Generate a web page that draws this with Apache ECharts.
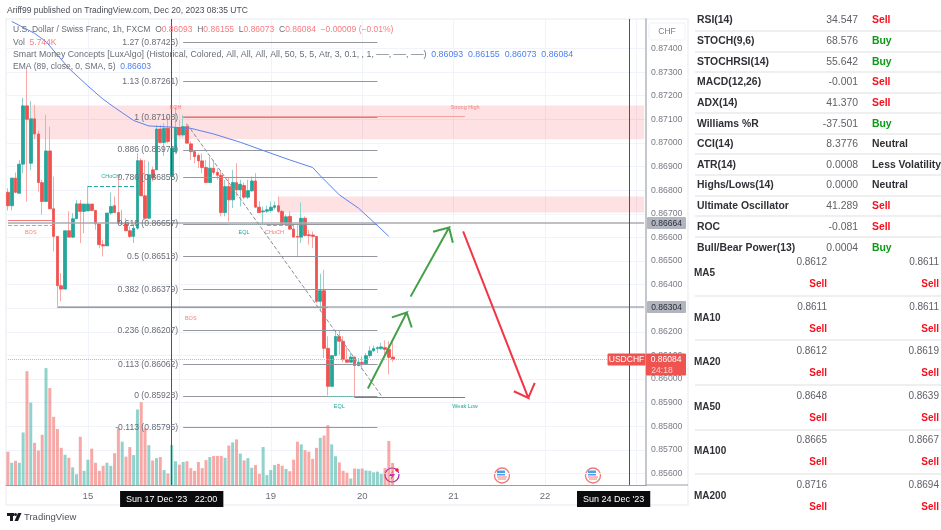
<!DOCTYPE html>
<html>
<head>
<meta charset="utf-8">
<title>USDCHF</title>
<style>
html, body { margin: 0; padding: 0; background: #fff; }
#main { width: 941px; height: 530px; }
</style>
<script src="https://cdn.jsdelivr.net/npm/echarts@6/dist/echarts.min.js"></script>
</head>
<body>
<div id="main"></div>
<script>
// candles
var opens = [0.86791,0.86734,0.86851,0.86787,0.86910,0.87157,0.86914,0.87102,0.87038,0.86832,0.86752,0.86966,0.86721,0.86604,0.86395,0.86381,0.86628,0.86601,0.86679,0.86742,0.86710,0.86712,0.86741,0.86714,0.86657,0.86569,0.86564,0.86703,0.86734,0.86705,0.86657,0.86660,0.86628,0.86604,0.86639,0.86925,0.86776,0.86681,0.86886,0.86886,0.87059,0.87002,0.87062,0.86858,0.86963,0.87065,0.87034,0.87069,0.86996,0.86963,0.86947,0.86924,0.86896,0.86832,0.86893,0.86875,0.86863,0.86705,0.86815,0.86759,0.86832,0.86801,0.86820,0.86770,0.86797,0.86839,0.86728,0.86708,0.86711,0.86714,0.86727,0.86734,0.86710,0.86660,0.86689,0.86635,0.86604,0.86601,0.86681,0.86611,0.86610,0.86604,0.86329,0.86374,0.86130,0.85969,0.86099,0.86180,0.86160,0.86082,0.86071,0.86093,0.86057,0.86071,0.86065,0.86099,0.86119,0.86129,0.86129,0.86133,0.86125,0.86093];
var closes = [0.86734,0.86851,0.86791,0.86910,0.87157,0.87100,0.87102,0.87038,0.86832,0.86752,0.86966,0.86721,0.86604,0.86395,0.86381,0.86628,0.86601,0.86679,0.86742,0.86710,0.86741,0.86741,0.86714,0.86657,0.86569,0.86564,0.86703,0.86731,0.86705,0.86660,0.86660,0.86628,0.86604,0.86639,0.86925,0.86776,0.86681,0.86865,0.86851,0.87059,0.87002,0.87062,0.87006,0.86978,0.87065,0.87034,0.87069,0.86999,0.86963,0.86942,0.86924,0.86896,0.86832,0.86893,0.86875,0.86863,0.86705,0.86815,0.86759,0.86832,0.86801,0.86825,0.86770,0.86798,0.86839,0.86728,0.86705,0.86712,0.86717,0.86728,0.86734,0.86710,0.86660,0.86687,0.86635,0.86601,0.86601,0.86681,0.86608,0.86607,0.86604,0.86329,0.86374,0.86130,0.85969,0.86099,0.86180,0.86160,0.86082,0.86071,0.86093,0.86057,0.86071,0.86065,0.86099,0.86119,0.86129,0.86133,0.86136,0.86125,0.86092,0.86084];
var lows = [0.86714,0.86714,0.86787,0.86787,0.86872,0.86752,0.86886,0.87016,0.86794,0.86696,0.86752,0.86721,0.86540,0.86308,0.86329,0.86381,0.86601,0.86597,0.86677,0.86576,0.86618,0.86712,0.86710,0.86632,0.86555,0.86519,0.86564,0.86696,0.86705,0.86653,0.86657,0.86628,0.86597,0.86576,0.86632,0.86776,0.86674,0.86677,0.86837,0.86886,0.86999,0.86945,0.86999,0.86858,0.86956,0.87027,0.87027,0.86999,0.86928,0.86914,0.86893,0.86872,0.86832,0.86830,0.86865,0.86844,0.86689,0.86689,0.86667,0.86724,0.86773,0.86731,0.86762,0.86762,0.86794,0.86724,0.86703,0.86653,0.86703,0.86705,0.86717,0.86703,0.86657,0.86657,0.86632,0.86601,0.86515,0.86576,0.86604,0.86569,0.86555,0.86322,0.86287,0.86089,0.85930,0.85969,0.86096,0.86103,0.86071,0.86071,0.86068,0.85920,0.86054,0.86040,0.86062,0.86089,0.86116,0.86110,0.86124,0.86103,0.86019,0.86073];
var highs = [0.86808,0.86851,0.86875,0.86928,0.87192,0.87316,0.87178,0.87161,0.87052,0.86844,0.87119,0.87069,0.86858,0.86604,0.86449,0.86628,0.86710,0.86703,0.86759,0.86759,0.86741,0.86818,0.86741,0.86714,0.86657,0.86590,0.86703,0.86790,0.86773,0.86846,0.86717,0.86681,0.86646,0.86657,0.86956,0.86935,0.86928,0.86921,0.86900,0.87076,0.87076,0.87083,0.87112,0.87041,0.87154,0.87097,0.87119,0.87083,0.87006,0.86970,0.86956,0.86956,0.86928,0.86942,0.86928,0.86893,0.86886,0.86844,0.86851,0.86886,0.86914,0.86844,0.86832,0.86844,0.86858,0.86872,0.86752,0.86731,0.86734,0.86752,0.86752,0.86773,0.86717,0.86696,0.86710,0.86657,0.86657,0.86748,0.86689,0.86632,0.86625,0.86604,0.86446,0.86463,0.86181,0.86099,0.86202,0.86205,0.86181,0.86139,0.86113,0.86093,0.86089,0.86096,0.86110,0.86139,0.86142,0.86139,0.86153,0.86164,0.86160,0.86155];
// volume in thousands
var volumes = [8.7,5.8,6.3,5.8,13.7,29.7,21.5,11.0,9.0,13.1,30.5,25.3,17.8,14.6,9.7,7.9,7.1,4.6,2.8,12.6,3.7,6.6,9.5,5.8,3.7,5.0,5.8,5.0,8.3,14.8,11.3,7.4,9.9,7.8,19.7,21.6,14.8,10.4,6.4,7.0,7.3,3.9,3.0,10.4,6.2,5.3,6.0,6.2,4.4,3.7,6.0,4.4,6.5,7.3,7.6,7.6,7.6,7.1,10.3,11.1,11.9,8.2,6.4,7.0,4.5,5.2,2.9,9.9,2.6,3.9,5.2,5.5,5.0,4.2,3.6,6.6,11.3,10.6,9.1,8.7,6.8,9.7,12.3,12.9,15.6,10.6,7.5,5.9,3.7,3.2,1.7,4.3,4.2,4.3,3.8,3.7,3.3,3.5,2.9,4.4,11.5,5.744];
// EMA 89, [bar, price]
var emaPoints = [[1,0.87515],[7,0.87464],[10,0.87429],[13,0.87373],[16,0.87316],[21,0.87241],[25,0.87185],[28,0.87150],[33,0.87095],[37,0.87072],[43,0.87067],[48,0.87062],[54,0.87038],[61,0.87003],[67,0.86968],[74,0.86928],[80,0.86896],[82,0.86861],[87,0.86780],[92,0.86724],[96,0.86665],[100,0.86604]];

var barCount = 168;
var tickBars = [21, 43, 69, 93, 117, 141, 159];
var tickLabels = ['15', "Sun 17 Dec '23   22:00", '19', '20', '21', '22', "Sun 24 Dec '23"];
var boxedTicks = [43, 159];
var gridBars = [21, 45, 69, 93, 117, 141, 165];
var cursorBars = [43, 163];
var priceTicks = [0.856,0.857,0.858,0.859,0.860,0.861,0.862,0.863,0.864,0.865,0.866,0.867,0.868,0.869,0.870,0.871,0.872,0.873,0.874];

// fib retracement
var fibRatios = ['1.27','1.13','1','0.886','0.786','0.618','0.5','0.382','0.236','0.113','0','-0.113'];
var fibPrices = [0.87426,0.87261,0.87108,0.86971,0.86855,0.86657,0.86518,0.86379,0.86207,0.86062,0.85928,0.85795];

// smart money labels: text, bar, price, colour
var smcLabels = [
    ['Strong High', 120, 0.87152, '#f77c80'],
    ['EQH', 44, 0.87152, '#f77c80'],
    ['BOS', 6, 0.86619, '#f77c80'],
    ['BOS', 48, 0.86256, '#f77c80'],
    ['CHoCH', 27, 0.86856, '#26a69a'],
    ['EQL', 62, 0.86619, '#26a69a'],
    ['CHoCH', 70, 0.86619, '#f77c80'],
    ['EQL', 87, 0.85883, '#26a69a'],
    ['Weak Low', 120, 0.85883, '#26a69a']
];

// drawn arrows: tail, tip, arm, tip, arm
var arrowOne = [[95.0,0.85960],[105.2,0.86282],[101.3,0.86261],[105.2,0.86282],[106.5,0.86218]];
var arrowTwo = [[106.2,0.86349],[116.3,0.86642],[112.1,0.86624],[116.3,0.86642],[117.3,0.86577]];
var arrowDown = [[120.0,0.86625],[137.1,0.85920],[133.3,0.85948],[137.1,0.85920],[138.8,0.85984]];

// right hand tables
var indNames = ['RSI(14)','STOCH(9,6)','STOCHRSI(14)','MACD(12,26)','ADX(14)','Williams %R','CCI(14)','ATR(14)','Highs/Lows(14)','Ultimate Oscillator','ROC','Bull/Bear Power(13)'];
var indValues = ['34.547','68.576','55.642','-0.001','41.370','-37.501','8.3776','0.0008','0.0000','41.289','-0.081','0.0004'];
var indSignals = ['Sell','Buy','Buy','Sell','Sell','Buy','Neutral','Less Volatility','Neutral','Sell','Sell','Buy'];
var indRows = [20,41,62,82,103,124,144,165,185,206,227,248];
var indLines = [31,52,72,93,113,134,154,175,196,216,237];
var maNames = ['MA5','MA10','MA20','MA50','MA100','MA200'];
var maSimple = ['0.8612','0.8611','0.8612','0.8648','0.8665','0.8716'];
var maExp = ['0.8611','0.8611','0.8619','0.8639','0.8667','0.8694'];
var maRows = [262,307,351,396,440,485];
var maLines = [296,340,385,430,474];

var GREEN = '#26a69a', RED = '#ef5350';
var FONT = '"Liberation Sans", Arial, sans-serif';

var categories = [];
for (var i = 0; i < barCount; i++) {
    categories.push(String(i));
}

var wickData = [], bodyData = [], volData = [];
for (var j = 0; j < opens.length; j++) {
    wickData.push([opens[j], closes[j], lows[j], highs[j]]);
    bodyData.push([opens[j], closes[j], Math.min(opens[j], closes[j]), Math.max(opens[j], closes[j])]);
    volData.push({
        value: volumes[j],
        itemStyle: { color: closes[j] >= opens[j] ? 'rgba(38,166,154,0.5)' : 'rgba(239,83,80,0.5)' }
    });
}

function seg(b1, p1, b2, p2, color, width, type) {
    return [
        { coord: [b1, p1], lineStyle: { color: color, width: width, type: type || 'solid' }, label: { show: false } },
        { coord: [b2, p2] }
    ];
}

// levels and zones
var levelLines = [];
fibPrices.forEach(function (p, k) {
    var line = seg(46, p, 97, p, '#94979f', 1.2);
    line[0].label = {
        show: true, position: 'start', distance: 5, color: '#6a6d78', fontFamily: FONT, fontSize: 8.6,
        formatter: fibRatios[k] + ' (' + p.toFixed(5) + ')'
    };
    levelLines.push(line);
});
levelLines.push(seg(0, 0.86664, 167, 0.86664, '#a9abb2', 1.6));
levelLines.push(seg(13, 0.86304, 167, 0.86304, '#a9abb2', 1.6));
levelLines.push(seg(13, 0.86304, 84, 0.86304, '#ef7a7c', 1));
levelLines.push(seg(0, 0.86672, 12, 0.86672, '#ef7a7c', 1));
levelLines.push(seg(0, 0.86653, 12, 0.86653, '#f08a8c', 1, 'dashed'));
levelLines.push(seg(46, 0.87114, 120, 0.87114, '#f5a0a2', 1));
levelLines.push(seg(21, 0.86818, 34, 0.86818, '#26a69a', 1, 'dashed'));
levelLines.push(seg(58, 0.86655, 68, 0.86655, '#7fcdc5', 1, 'dotted'));
levelLines.push(seg(68, 0.86653, 75, 0.86653, '#f08a8c', 1, 'dashed'));
levelLines.push(seg(84, 0.85925, 91, 0.85925, '#7fcdc5', 1, 'dotted'));
levelLines.push(seg(91, 0.85921, 120, 0.85921, '#26a69a', 1));
levelLines.push(seg(47, 0.87080, 98, 0.85930, '#8a8d96', 1, 'dashed'));
levelLines.push(seg(0, 0.86084, 167, 0.86084, '#f4a0a0', 1, 'dotted'));
cursorBars.forEach(function (b) {
    levelLines.push({ xAxis: b, lineStyle: { color: '#50535e', width: 1, type: 'solid' }, label: { show: false } });
});

var zones = [
    [{ coord: [6, 0.87159] }, { coord: [167, 0.87016] }],
    [{ coord: [71, 0.86773] }, { coord: [167, 0.86705] }]
];

// plain text helper for everything outside the plot
function text(x, y, str, color, size, opt) {
    opt = opt || {};
    return {
        type: 'text', x: x, y: y, z: 50, silent: true, scaleX: opt.sx || 1,
        style: {
            text: str, fill: color, fontSize: size, fontFamily: FONT, fontWeight: opt.weight || 'normal',
            align: opt.align || 'left', verticalAlign: 'middle', rich: opt.rich
        }
    };
}
function rule(y) {
    return { type: 'line', z: 40, silent: true, shape: { x1: 695, y1: y, x2: 941, y2: y }, style: { stroke: '#dfdfdf', lineWidth: 1.2 } };
}
function signalColor(s) {
    if (s === 'Sell') return '#f5101e';
    if (s === 'Buy') return '#0a9a14';
    return '#2f3136';
}
function flag(cx, cy) {
    return {
        type: 'group', z: 45, silent: true, children: [
            { type: 'circle', shape: { cx: cx, cy: cy, r: 7.5 }, style: { fill: '#fff', stroke: '#f07a7a', lineWidth: 1.3 } },
            { type: 'rect', shape: { x: cx - 5, y: cy + 1, width: 10, height: 1 }, style: { fill: '#f07a7a' } },
            { type: 'rect', shape: { x: cx - 4, y: cy + 3, width: 8, height: 1 }, style: { fill: '#f07a7a' } },
            { type: 'rect', shape: { x: cx - 5, y: cy - 5, width: 8, height: 5 }, style: { fill: '#4f9fe8' } }
        ]
    };
}
function tag(x, y, w, h, color) {
    return { type: 'rect', z: 44, silent: true, shape: { x: x, y: y, width: w, height: h, r: 1 }, style: { fill: color } };
}

var graphics = [];
// panel frame and price scale header
graphics.push({ type: 'rect', z: -1, silent: true, shape: { x: 6, y: 19, width: 682, height: 486 }, style: { fill: '#fff', stroke: '#eef1f6', lineWidth: 1.5 } });
graphics.push({ type: 'line', z: 30, silent: true, shape: { x1: 646, y1: 485, x2: 688, y2: 485 }, style: { stroke: '#9a9da6', lineWidth: 1 } });
graphics.push({ type: 'rect', z: 30, silent: true, shape: { x: 649, y: 23, width: 36, height: 17, r: 2 }, style: { fill: '#fff', stroke: '#eef1f6' } });
graphics.push(text(667, 31.5, 'CHF', '#787b86', 8.5, { align: 'center' }));
graphics.push(text(7, 11, 'Ariff99 published on TradingView.com, Dec 20, 2023 08:35 UTC', '#4a4d57', 8.5));

// legend
function legendStyles(size) {
    return {
        g: { fill: '#6a6d78', fontSize: size, fontFamily: FONT },
        r: { fill: '#f77c80', fontSize: size, fontFamily: FONT },
        b: { fill: '#4d7ff0', fontSize: size, fontFamily: FONT }
    };
}
graphics.push(text(13, 30, '{g|U.S. Dollar / Swiss Franc, 1h, FXCM  O}{r|0.86093}{g|  H}{r|0.86155}{g|  L}{r|0.86073}{g|  C}{r|0.86084  \u22120.00009 (\u22120.01%)}', '#6a6d78', 8.5, { rich: legendStyles(8.5) }));
graphics.push(text(13, 42.5, '{g|Vol  }{r|5.744K}', '#6a6d78', 8.5, { rich: legendStyles(8.5) }));
graphics.push(text(13, 55, '{g|Smart Money Concepts [LuxAlgo] (Historical, Colored, All, All, All, All, 50, 5, 5, Atr, 3, 0.1, , 1, \u2500\u2500, \u2500\u2500, \u2500\u2500)  }{b|0.86093  0.86155  0.86073  0.86084}', '#6a6d78', 8.8, { rich: legendStyles(8.8) }));
graphics.push(text(13, 67, '{g|EMA (89, close, 0, SMA, 5)  }{b|0.86603}', '#6a6d78', 8.5, { rich: legendStyles(8.5) }));

// price tags on the scale
graphics.push(tag(647, 217, 39, 12, '#b2b5be'));
graphics.push(text(666.5, 223.5, '0.86664', '#2a2e39', 8.5, { align: 'center' }));
graphics.push(tag(647, 301, 39, 12, '#b2b5be'));
graphics.push(text(666.5, 307.5, '0.86304', '#2a2e39', 8.5, { align: 'center' }));
graphics.push(tag(607.5, 353.5, 38, 12, RED));
graphics.push(text(626.5, 360, 'USDCHF', '#fff', 8.5, { align: 'center' }));
graphics.push(tag(646, 353.5, 40, 22, RED));
graphics.push(text(666, 360, '0.86084', '#fff', 8.5, { align: 'center' }));
graphics.push(text(662, 370.5, '24:18', '#fbd0d0', 8.5, { align: 'center' }));

// event icons
graphics.push(flag(502, 475.5));
graphics.push(flag(593, 475.5));
graphics.push({
    type: 'group', z: 45, silent: true, children: [
        { type: 'circle', shape: { cx: 392, cy: 475, r: 7 }, style: { fill: 'rgba(255,255,255,0.7)', stroke: '#9c27b0', lineWidth: 1.2 } },
        { type: 'polygon', shape: { points: [[393.5, 470], [389, 476], [392, 476], [390.5, 480], [395, 474], [392, 474]] }, style: { fill: '#9c27b0' } },
        { type: 'circle', shape: { cx: 397, cy: 470, r: 1.8 }, style: { fill: '#f01e2c' } }
    ]
});

// tradingview mark
graphics.push({
    type: 'group', z: 45, silent: true, children: [
        { type: 'rect', shape: { x: 7, y: 513, width: 7, height: 3 }, style: { fill: '#1a1c22' } },
        { type: 'rect', shape: { x: 10, y: 513, width: 3, height: 8 }, style: { fill: '#1a1c22' } },
        { type: 'circle', shape: { cx: 15.5, cy: 514.5, r: 1.5 }, style: { fill: '#1a1c22' } },
        { type: 'polygon', shape: { points: [[18, 513], [21.5, 513], [18, 521], [14.5, 521]] }, style: { fill: '#1a1c22' } }
    ]
});
graphics.push(text(24, 517.5, 'TradingView', '#4f525c', 9.5));

// indicator table
indNames.forEach(function (n, k) {
    graphics.push(text(697, indRows[k], n, '#2f3136', 10.4, { weight: 'bold' }));
    graphics.push(text(858, indRows[k], indValues[k], '#5f6168', 10.4, { align: 'right' }));
    graphics.push(text(872, indRows[k], indSignals[k], signalColor(indSignals[k]), 10.4, { weight: 'bold' }));
});
indLines.forEach(function (y) { graphics.push(rule(y)); });

// moving average table
maNames.forEach(function (n, k) {
    graphics.push(text(694, maRows[k] + 11, n, '#2f3136', 11.5, { weight: 'bold', sx: 0.87 }));
    graphics.push(text(827, maRows[k], maSimple[k], '#5f6168', 11.5, { align: 'right', sx: 0.87 }));
    graphics.push(text(939, maRows[k], maExp[k], '#5f6168', 11.5, { align: 'right', sx: 0.87 }));
    graphics.push(text(827, maRows[k] + 22, 'Sell', '#f5101e', 11.5, { align: 'right', weight: 'bold', sx: 0.87 }));
    graphics.push(text(939, maRows[k] + 22, 'Sell', '#f5101e', 11.5, { align: 'right', weight: 'bold', sx: 0.87 }));
});
maLines.forEach(function (y) { graphics.push(rule(y)); });

function arrowSeries(points, color) {
    return {
        type: 'line', xAxisIndex: 1, yAxisIndex: 0, data: points, showSymbol: false, z: 8, silent: true,
        lineStyle: { color: color, width: 2, join: 'miter' }, animation: false
    };
}

var myChart = echarts.init(document.getElementById('main'));

var option = {
    animation: false,
    backgroundColor: '#fff',
    textStyle: { fontFamily: FONT },
    graphic: graphics,
    grid: { left: 6, top: 19, width: 640, height: 466, containLabel: false },
    xAxis: [
        {
            type: 'category',
            data: categories,
            boundaryGap: true,
            axisLine: { onZero: false, lineStyle: { color: '#9a9da6', width: 1 } },
            axisTick: { show: false, alignWithLabel: true },
            splitLine: {
                show: true,
                alignWithLabel: true,
                lineStyle: { color: '#f0f3fa', width: 1 },
                interval: function (index) { return gridBars.indexOf(index) >= 0; }
            },
            axisLabel: {
                interval: 0,
                margin: 6,
                hideOverlap: false,
                color: '#6a6d78',
                fontSize: 9.5,
                formatter: function (value, index) {
                    var k = tickBars.indexOf(index);
                    if (k < 0) return '';
                    return boxedTicks.indexOf(index) >= 0 ? '{box|' + tickLabels[k] + '}' : tickLabels[k];
                },
                rich: {
                    box: { color: '#fff', backgroundColor: '#0b0b0d', fontSize: 9, padding: [4, 6, 3, 6], fontFamily: FONT }
                }
            }
        },
        { type: 'value', min: 0, max: barCount, show: false, gridIndex: 0, axisLine: { show: false, onZero: false }, splitLine: { show: false } }
    ],
    yAxis: [
        {
            type: 'value',
            position: 'right',
            min: 0.85551,
            max: 0.87525,
            scale: true,
            axisLine: { show: true, onZero: false, lineStyle: { color: '#b2b5be', width: 1.5 } },
            axisTick: { show: false, customValues: priceTicks },
            splitLine: { show: true, lineStyle: { color: '#f0f3fa', width: 1 } },
            axisLabel: {
                customValues: priceTicks,
                color: '#787b86',
                fontSize: 8.7,
                margin: 5,
                formatter: function (v) { return v.toFixed(5); }
            }
        },
        { type: 'value', min: 0, max: 121.6, show: false, axisLine: { show: false, onZero: false }, splitLine: { show: false } }
    ],
    series: [
        {
            name: 'Volume',
            type: 'bar',
            yAxisIndex: 1,
            barWidth: 3,
            data: volData,
            z: 1,
            silent: true
        },
        {
            name: 'Wicks',
            type: 'candlestick',
            data: wickData,
            barWidth: 1,
            z: 2,
            silent: true,
            itemStyle: { color: '#8fd3cc', color0: '#f8a9a7', borderColor: '#8fd3cc', borderColor0: '#f8a9a7', borderWidth: 1 },
            markArea: {
                silent: true,
                itemStyle: { color: 'rgba(242,54,69,0.15)' },
                data: zones
            },
            markLine: {
                silent: true,
                symbol: 'none',
                precision: 5,
                data: levelLines
            },
            markPoint: {
                silent: true,
                symbolSize: 0,
                data: smcLabels.map(function (l) {
                    return {
                        coord: [l[1], l[2]],
                        label: { show: true, position: 'inside', formatter: l[0], color: l[3], fontSize: 5.5, fontFamily: FONT }
                    };
                })
            }
        },
        {
            name: 'USDCHF',
            type: 'candlestick',
            data: bodyData,
            barWidth: 3.2,
            z: 3,
            silent: true,
            itemStyle: { color: GREEN, color0: RED, borderColor: GREEN, borderColor0: RED, borderWidth: 0.8 }
        },
        {
            name: 'EMA',
            type: 'line',
            data: emaPoints,
            showSymbol: false,
            smooth: false,
            z: 6,
            silent: true,
            lineStyle: { color: '#5b83f0', width: 1 }
        },
        arrowSeries(arrowOne, '#43a047'),
        arrowSeries(arrowTwo, '#43a047'),
        arrowSeries(arrowDown, '#f23645')
    ]
};

myChart.setOption(option);
</script>
</body>
</html>
